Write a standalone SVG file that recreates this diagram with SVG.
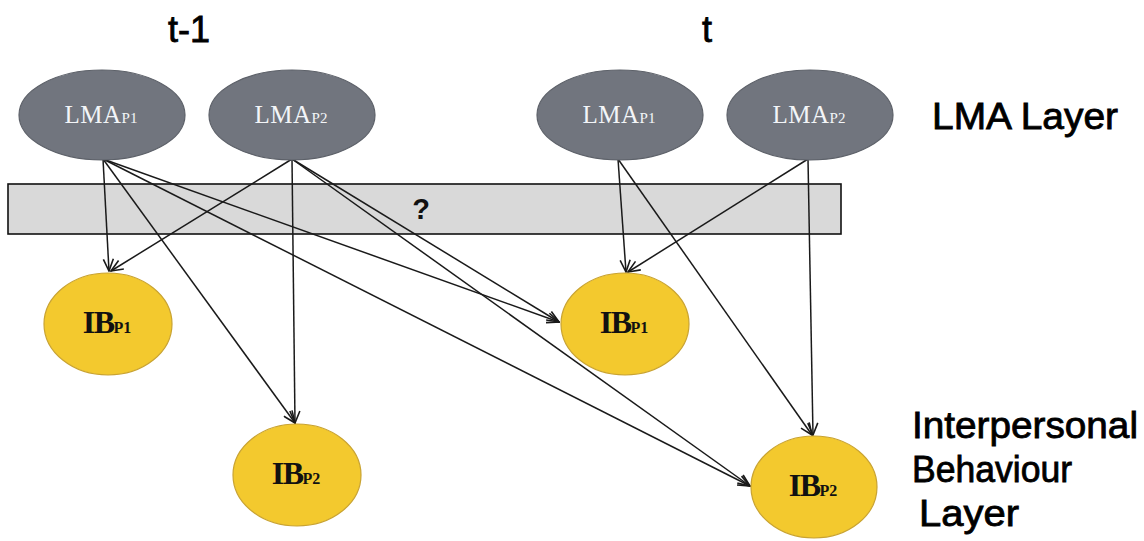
<svg xmlns="http://www.w3.org/2000/svg" width="1144" height="541" viewBox="0 0 1144 541">
  <defs>
    <marker id="arrow" viewBox="0 0 14 12" refX="13" refY="6" markerWidth="14" markerHeight="12" markerUnits="userSpaceOnUse" orient="auto">
      <path d="M1,1 L13,6 L1,11" fill="none" stroke="#1a1a1a" stroke-width="1.6"/>
    </marker>
    <style>
      .lma { fill: #71757e; stroke: #5d6169; stroke-width: 1.2; }
      .ib { fill: #f3c92e; stroke: #c9a331; stroke-width: 1.2; }
      .lma-t { font-family: "Liberation Serif", "Times New Roman", serif; font-size: 25px; fill: #f3f5f8; text-anchor: middle; letter-spacing: 0.5px; }
      .lma-t tspan { font-size: 15px; letter-spacing: 0; }
      .ib-t { font-family: "Liberation Serif", "Times New Roman", serif; font-weight: bold; font-size: 32px; fill: #111; text-anchor: middle; letter-spacing: -1.5px; }
      .ib-t tspan { font-size: 16px; letter-spacing: 0; }
      .lbl { font-family: "Liberation Sans", Arial, sans-serif; font-size: 36px; fill: #000; stroke: #000; stroke-width: 0.8px; }
      .edge { stroke: #1a1a1a; stroke-width: 1.5; fill: none; marker-end: url(#arrow); }
    </style>
  </defs>
  <rect width="1144" height="541" fill="#fff"/>

  <!-- time slice headings -->
  <text class="lbl" x="168" y="42" font-size="38">t-1</text>
  <text class="lbl" x="702" y="42" font-size="38">t</text>

  <!-- layer labels -->
  <text class="lbl" x="932" y="129" textLength="186" lengthAdjust="spacingAndGlyphs">LMA Layer</text>
  <text class="lbl" x="912" y="438" textLength="226" lengthAdjust="spacingAndGlyphs">Interpersonal</text>
  <text class="lbl" x="912" y="482" textLength="160" lengthAdjust="spacingAndGlyphs">Behaviour</text>
  <text class="lbl" x="919" y="526" textLength="100" lengthAdjust="spacingAndGlyphs">Layer</text>

  <!-- hidden mediating layer -->
  <g id="hidden-layer">
    <rect x="8" y="184" width="833" height="50" fill="#d9d9d9" stroke="#111" stroke-width="1.6"/>
    <text x="421" y="219" font-family="Liberation Sans, Arial, sans-serif" font-weight="bold" font-size="29" text-anchor="middle" fill="#111">?</text>
  </g>

  <!-- connectors -->
  <g id="edges">
    <line class="edge" x1="103" y1="159" x2="109" y2="271"/>
    <line class="edge" x1="103" y1="159" x2="295" y2="423"/>
    <line class="edge" x1="103" y1="159" x2="559" y2="322"/>
    <line class="edge" x1="103" y1="159" x2="750" y2="486"/>
    <line class="edge" x1="292" y1="159" x2="111" y2="271"/>
    <line class="edge" x1="292" y1="159" x2="295" y2="423"/>
    <line class="edge" x1="292" y1="159" x2="559" y2="322"/>
    <line class="edge" x1="292" y1="159" x2="750" y2="486"/>
    <line class="edge" x1="618" y1="159" x2="626" y2="272"/>
    <line class="edge" x1="618" y1="159" x2="812" y2="435"/>
    <line class="edge" x1="808" y1="159" x2="628" y2="272"/>
    <line class="edge" x1="808" y1="159" x2="813" y2="435"/>
  </g>

  <!-- LMA layer, slice t-1 -->
  <g id="lma-p1-prev">
    <ellipse class="lma" cx="102" cy="115" rx="83" ry="45"/>
    <text class="lma-t" x="101" y="123">LMA<tspan>P1</tspan></text>
  </g>
  <g id="lma-p2-prev">
    <ellipse class="lma" cx="292" cy="115" rx="83" ry="45"/>
    <text class="lma-t" x="291" y="123">LMA<tspan>P2</tspan></text>
  </g>
  <!-- LMA layer, slice t -->
  <g id="lma-p1-cur">
    <ellipse class="lma" cx="620" cy="115" rx="83" ry="45"/>
    <text class="lma-t" x="619" y="123">LMA<tspan>P1</tspan></text>
  </g>
  <g id="lma-p2-cur">
    <ellipse class="lma" cx="810" cy="115" rx="83" ry="45"/>
    <text class="lma-t" x="809" y="123">LMA<tspan>P2</tspan></text>
  </g>

  <!-- interpersonal behaviour layer -->
  <g id="ib-p1-prev">
    <ellipse class="ib" cx="108" cy="324" rx="64" ry="51"/>
    <text class="ib-t" x="107" y="333">IB<tspan>P1</tspan></text>
  </g>
  <g id="ib-p2-prev">
    <ellipse class="ib" cx="297" cy="475" rx="64" ry="51"/>
    <text class="ib-t" x="296" y="484">IB<tspan>P2</tspan></text>
  </g>
  <g id="ib-p1-cur">
    <ellipse class="ib" cx="625" cy="324" rx="64" ry="51"/>
    <text class="ib-t" x="624" y="333">IB<tspan>P1</tspan></text>
  </g>
  <g id="ib-p2-cur">
    <ellipse class="ib" cx="814" cy="487" rx="63" ry="51"/>
    <text class="ib-t" x="813" y="496">IB<tspan>P2</tspan></text>
  </g>
</svg>
